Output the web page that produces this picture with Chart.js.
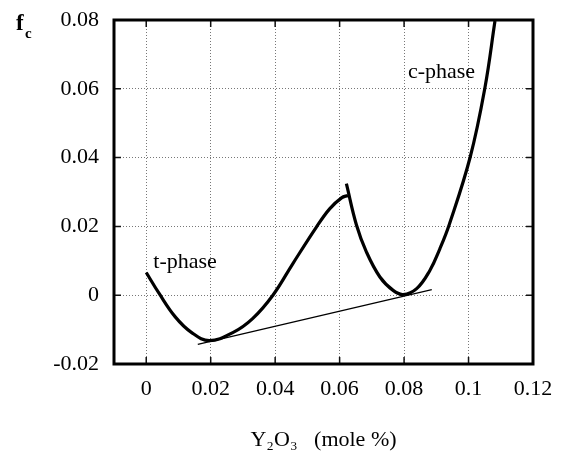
<!DOCTYPE html>
<html><head><meta charset="utf-8">
<script src="https://cdn.jsdelivr.net/npm/chart.js@4/dist/chart.umd.min.js"></script>
<style>html,body{margin:0;padding:0;background:#fff}canvas{display:block}</style>
</head><body>
<canvas id="c" width="566" height="453"></canvas>
<script>
const xTicks = [0, 0.02, 0.04, 0.06, 0.08, 0.1, 0.12];
const xTickLabels = ['0', '0.02', '0.04', '0.06', '0.08', '0.1', '0.12'];
const yTicks = [-0.02, 0, 0.02, 0.04, 0.06, 0.08];
const yTickLabels = ['-0.02', '0', '0.02', '0.04', '0.06', '0.08'];

const tPhaseX = [0, 0.004, 0.009, 0.014, 0.0196, 0.027, 0.033, 0.0393, 0.0455, 0.0528, 0.0569, 0.0606, 0.0626];
const tPhaseY = [0.0066, 0.0005, -0.0063, -0.0108, -0.0132, -0.0108, -0.0068, 0.0, 0.0092, 0.0198, 0.0251, 0.0283, 0.029];

const cPhaseX = [0.0621, 0.0652, 0.0683, 0.0725, 0.0766, 0.0797, 0.0839, 0.088, 0.0911, 0.094, 0.1005, 0.1051, 0.1082];
const cPhaseY = [0.0324, 0.0205, 0.0126, 0.0053, 0.0014, 0.0002, 0.0019, 0.0072, 0.0135, 0.0205, 0.0401, 0.0604, 0.0797];

const tangentX = [0.016, 0.0886];
const tangentY = [-0.0143, 0.00165];

const zip = (xs, ys) => xs.map((x, i) => ({x: x, y: ys[i]}));
const SERIF = '"Liberation Serif", "Times New Roman", serif';

const framePlugin = {
  id: 'frame',
  afterDraw(chart) {
    const {ctx, chartArea: a, scales} = chart;
    const sx = scales.x, sy = scales.y;
    ctx.save();
    ctx.strokeStyle = '#111';
    ctx.lineWidth = 1.5;
    ctx.beginPath();
    xTicks.forEach(v => {
      const px = sx.getPixelForValue(v);
      ctx.moveTo(px, a.bottom); ctx.lineTo(px, a.bottom - 7);
      ctx.moveTo(px, a.top); ctx.lineTo(px, a.top + 7);
    });
    yTicks.forEach(v => {
      const py = sy.getPixelForValue(v);
      ctx.moveTo(a.left, py); ctx.lineTo(a.left + 7, py);
      ctx.moveTo(a.right, py); ctx.lineTo(a.right - 7, py);
    });
    ctx.stroke();
    ctx.lineWidth = 3;
    ctx.strokeStyle = '#000';
    ctx.strokeRect(a.left, a.top, a.right - a.left, a.bottom - a.top);

    ctx.fillStyle = '#000';
    ctx.textBaseline = 'alphabetic';
    ctx.textAlign = 'left';
    ctx.font = '22px ' + SERIF;
    ctx.fillText('t-phase', sx.getPixelForValue(0.0022), sy.getPixelForValue(0.0078));
    ctx.fillText('c-phase', sx.getPixelForValue(0.0812), sy.getPixelForValue(0.0632));
    ctx.font = 'bold 23px ' + SERIF;
    ctx.fillText('f', 16, 30);
    ctx.font = 'bold 15px ' + SERIF;
    ctx.fillText('c', 25, 38);
    ctx.restore();
  }
};

new Chart(document.getElementById('c'), {
  type: 'scatter',
  data: {
    datasets: [
      {label: 't-phase', data: zip(tPhaseX, tPhaseY), showLine: true, borderColor: '#000', borderWidth: 3.2, pointRadius: 0, tension: 0.4, fill: false},
      {label: 'c-phase', data: zip(cPhaseX, cPhaseY), showLine: true, borderColor: '#000', borderWidth: 3.2, pointRadius: 0, tension: 0.4, fill: false},
      {label: 'tangent', data: zip(tangentX, tangentY), showLine: true, borderColor: '#000', borderWidth: 1.3, pointRadius: 0, fill: false}
    ]
  },
  options: {
    responsive: false,
    animation: false,
    devicePixelRatio: 1,
    layout: {padding: {top: 20, right: 33, left: 0, bottom: 0}},
    plugins: {legend: {display: false}, tooltip: {enabled: false}},
    scales: {
      x: {
        type: 'linear', min: -0.01, max: 0.12,
        afterBuildTicks: s => { s.ticks = xTicks.map(v => ({value: v})); },
        afterFit: s => { s.height = 89; s.paddingLeft = 0; s.paddingRight = 0; },
        ticks: {
          callback: (v) => { const i = xTicks.findIndex(t => Math.abs(t - v) < 1e-9); return i >= 0 ? xTickLabels[i] : ''; },
          font: {family: SERIF, size: 22}, color: '#000', padding: 12, maxRotation: 0, autoSkip: false
        },
        grid: {color: '#777', lineWidth: 1, drawTicks: false},
        border: {display: false, dash: [1, 2]},
        title: {display: true, text: 'Y\u2082O\u2083   (mole %)', font: {family: SERIF, size: 22}, color: '#000', padding: {top: 0, bottom: 0}}
      },
      y: {
        type: 'linear', min: -0.02, max: 0.08,
        afterBuildTicks: s => { s.ticks = yTicks.map(v => ({value: v})); },
        afterFit: s => { s.width = 114; s.paddingTop = 0; s.paddingBottom = 0; },
        ticks: {
          callback: (v) => { const i = yTicks.findIndex(t => Math.abs(t - v) < 1e-9); return i >= 0 ? yTickLabels[i] : ''; },
          font: {family: SERIF, size: 22}, color: '#000', padding: 15, autoSkip: false
        },
        grid: {color: '#777', lineWidth: 1, drawTicks: false},
        border: {display: false, dash: [1, 2]}
      }
    }
  },
  plugins: [framePlugin]
});
</script>
</body></html>
